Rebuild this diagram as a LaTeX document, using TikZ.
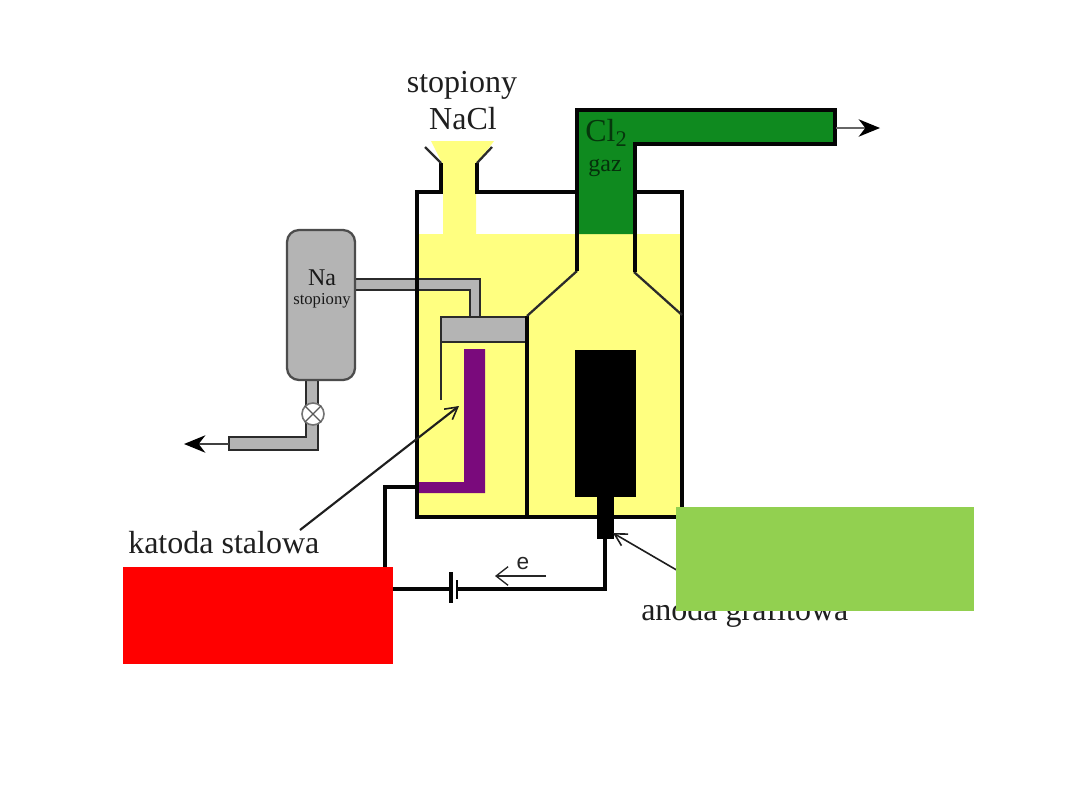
\documentclass[tikz,border=0pt]{standalone}
\usepackage{fontspec}
\setmainfont{Liberation Serif}
\newfontfamily\labelsans{Liberation Sans}
\usetikzlibrary{arrows.meta}
\definecolor{melt}{HTML}{FFFF80}
\definecolor{chlorine}{HTML}{0F8A1F}
\definecolor{sodium}{HTML}{B4B4B4}
\definecolor{steel}{HTML}{7A0A7C}
\definecolor{wall}{HTML}{050505}
\definecolor{cover}{HTML}{92D050}
\tikzset{
  wallline/.style={draw=wall,line width=2.8pt,line join=miter},
  thinwall/.style={draw=wall!85,line width=1.7pt},
  wire/.style={draw=wall,line width=2.7pt},
  pointer/.style={draw=wall!90,line width=1.2pt,-{Straight Barb[length=9pt,width=10pt,line width=1.2pt]}},
  outflow/.style={line width=1.6pt,-{Stealth[length=16pt,width=13pt,inset=5pt,color=black]}},
  caption/.style={font=\fontsize{24}{26}\selectfont,text=black!88,inner sep=0pt},
  tanktext/.style={inner sep=0pt,text=black!90},
}
\begin{document}
\begin{tikzpicture}[x=0.75pt,y=-0.75pt]
\useasboundingbox (0,0) rectangle (1080,810);
\fill[white] (0,0) rectangle (1080,810);

% molten salt: bath, feed neck and funnel
\fill[melt] (417,234) rectangle (682,517);
\fill[melt] (431,141) -- (494,141) -- (476,165) -- (476,234) -- (443,234) -- (443,165) -- cycle;

% chlorine outlet
\fill[chlorine] (576,234) -- (576,110) -- (835,110) -- (835,144) -- (635,144) -- (635,234) -- cycle;

% cathode lead
\fill[steel] (464,349) -- (485,349) -- (485,493) -- (418,493) -- (418,482) -- (464,482) -- cycle;

% sodium collector, riser and reservoir
\fill[sodium] (355,279) -- (480,279) -- (480,317) -- (470,317) -- (470,290) -- (355,290) -- cycle;
\fill[sodium] (442,317) rectangle (526,342);
\draw[thinwall] (355,279) -- (480,279) -- (480,317);
\draw[thinwall] (355,290) -- (470,290) -- (470,317);
\draw[thinwall] (441,400) -- (441,317) -- (526,317);
\draw[thinwall] (441,342) -- (526,342);

% reservoir and drain
\fill[sodium] (306,375) rectangle (318,450);
\fill[sodium] (229,437) rectangle (318,450);
\draw[thinwall,line width=1.5pt] (306,380) -- (306,437) -- (229,437) -- (229,450) -- (318,450) -- (318,380);
\node[draw=black!70,line width=1.7pt,fill=sodium,rounded corners=9pt,minimum width=68*0.75pt,minimum height=150*0.75pt,inner sep=0pt] (reservoir) at (321,305) {};
\node[tanktext,font=\fontsize{18}{20}\selectfont] (natext) at (322,278) {Na};
\node[tanktext,font=\fontsize{12.5}{14}\selectfont] (stoptext) at (322,301) {stopiony};
\node[circle,draw=black!55,line width=1.2pt,fill=white,minimum size=22*0.75pt,inner sep=0pt] (valve) at (313,414) {};
\draw[black!65,line width=1pt] (valve.north west) -- (valve.south east) (valve.north east) -- (valve.south west);

% cell walls
\draw[wallline] (441,163) -- (441,192) -- (417,192) -- (417,517) -- (682,517) -- (682,192) -- (635,192);
\draw[wallline] (577,192) -- (477,192) -- (477,163);
\draw[thinwall] (425,147) -- (441,163);
\draw[thinwall] (492,147) -- (477,163);
\draw[wallline] (527,517) -- (527,316);
\draw[thinwall] (527,316) -- (577,271);
\draw[thinwall] (634,272) -- (682,315);
\draw[wallline] (577,271) -- (577,110) -- (835,110) -- (835,144) -- (635,144) -- (635,272);

% graphite anode
\fill[black] (575,350) rectangle (636,497);
\fill[black] (597,497) rectangle (614,539);

% external circuit
\coordinate (cathodeend) at (418,487);
\coordinate (anodeend) at (605,539);
\coordinate (cornerup) at (385,487);
\coordinate (cornerdown) at (385,589);
\coordinate (cornerright) at (605,589);
\coordinate (plateA) at (451,589);
\coordinate (plateB) at (457,589);
\draw[wire] (cathodeend) -- (cornerup) -- (cornerdown) -- (plateA);
\draw[wire] (plateB) -- (cornerright) -- (anodeend);
\draw[wall,line width=3pt] (451,572) -- (451,603);
\draw[wall,line width=1.8pt] (457,580) -- (457,599);

% electron direction
\coordinate (ecurrentstart) at (546,576);
\coordinate (ecurrentend) at (495,576);
\draw[draw=black!85,line width=1pt,-{Straight Barb[length=9pt,width=14pt,line width=1pt]}] (ecurrentstart) -- (ecurrentend);
\node[inner sep=0pt,font=\labelsans\fontsize{17}{18}\selectfont,text=black!85] (electron) at (523,564) {e};

% outlet and drain arrows
\coordinate (gasstart) at (836,128);
\coordinate (gasend) at (880,128);
\draw[outflow,draw=black!60] (gasstart) -- (gasend);
\coordinate (drainstart) at (229,444);
\coordinate (drainend) at (184,444);
\draw[outflow,draw=black!75] (drainstart) -- (drainend);

% captions
\node[caption] (feed) at (462,85) {stopiony};
\node[caption] (feedsalt) at (463,119) {NaCl};
\node[caption,text=black!60!chlorine,anchor=west] (cltext) at (585,133) {Cl$_{\mathrm{2}}$};
\node[caption,font=\fontsize{18}{20}\selectfont,text=black!65!chlorine] (gaztext) at (605,168) {gaz};
\node[caption,anchor=west] (cathodecap) at (128,543) {katoda stalowa};
\node[caption,anchor=west] (anodecap) at (641,613) {anoda grafitowa};

% label leaders
\coordinate (cathodeleader) at (300,530);
\coordinate (cathodetip) at (459,406);
\draw[pointer,line width=1.6pt] (cathodeleader) -- (cathodetip);
\coordinate (anodeleader) at (680,572);
\coordinate (anodetip) at (613,533);
\draw[pointer] (anodeleader) -- (anodetip);

% solid panels
\fill[red] (123,567) rectangle (393,664);
\fill[cover] (676,507) rectangle (974,611);
\end{tikzpicture}
\end{document}
